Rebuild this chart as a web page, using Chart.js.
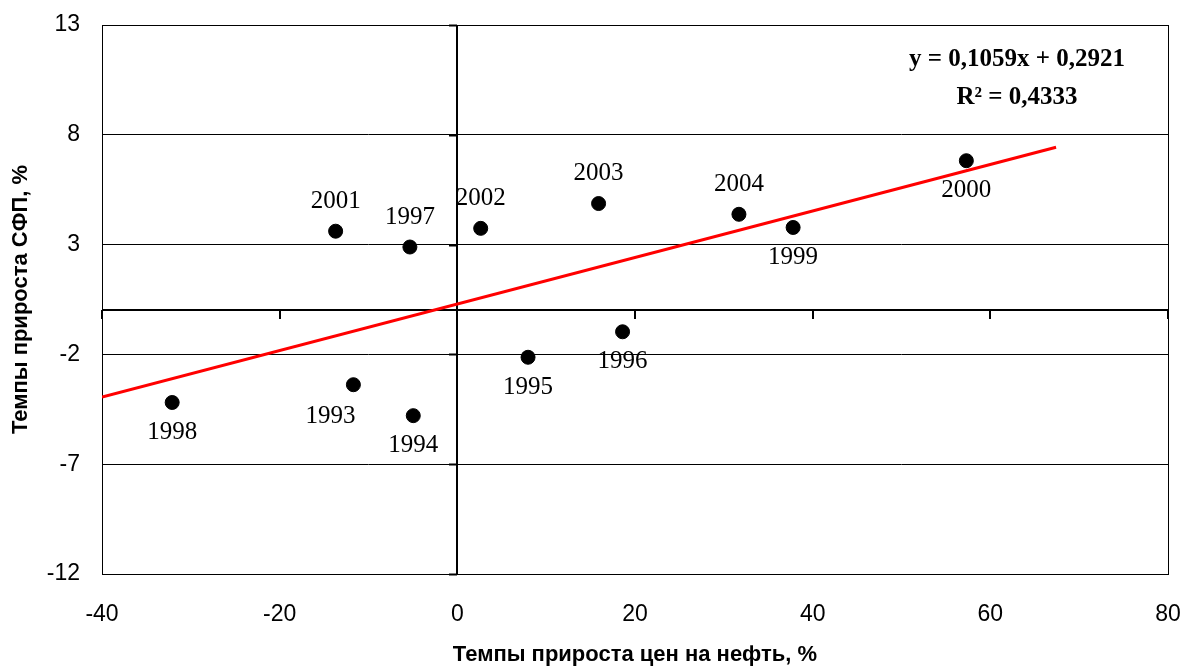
<!DOCTYPE html>
<html>
<head>
<meta charset="utf-8">
<script src="https://cdn.jsdelivr.net/npm/chart.js@4.4.1/dist/chart.umd.min.js"></script>
<style>
  body { margin: 0; background: #fff; }
  canvas { display: block; }
</style>
</head>
<body>
<canvas id="chart" width="1186" height="668"></canvas>
<script>
// Годы и значения точек (темпы прироста цен на нефть, темпы прироста СФП)
const years = ['1993', '1994', '1995', '1996', '1997', '1998', '1999', '2000', '2001', '2002', '2003', '2004'];
const oilGrowth = [-11.7, -4.96, 7.96, 18.6, -5.34, -32.1, 37.8, 57.3, -13.7, 2.63, 15.9, 31.7];
const tfpGrowth = [-3.38, -4.79, -2.13, -0.97, 2.89, -4.19, 3.78, 6.82, 3.61, 3.74, 4.87, 4.38];
// где подпись года относительно точки
const labelSide = ['below-left', 'below', 'below', 'below', 'above', 'below', 'below', 'below', 'above', 'above', 'above', 'above'];

// линия тренда из уравнения на графике
const trendSlope = 0.1059;
const trendIntercept = 0.2921;
const trendRange = [-40, 67.4];

const xTickValues = [-40, -20, 0, 20, 40, 60, 80];
const yTickValues = [-12, -7, -2, 3, 8, 13];

const points = oilGrowth.map((x, i) => ({ x: x, y: tfpGrowth[i] }));
const trend = trendRange.map(x => ({ x: x, y: trendSlope * x + trendIntercept }));

// рамка и оси, пересекающиеся в нуле
const axesPlugin = {
    id: 'crossAxes',
    beforeDatasetsDraw(chart) {
        const ctx = chart.ctx;
        const { left, right, top, bottom } = chart.chartArea;
        const sx = chart.scales.x, sy = chart.scales.y;
        const x0 = Math.round(sx.getPixelForValue(0));
        const y0 = Math.round(sy.getPixelForValue(0));
        ctx.save();
        ctx.strokeStyle = '#000';
        ctx.lineWidth = 1;
        ctx.strokeRect(Math.round(left) + 0.5, Math.round(top) + 0.5, Math.round(right - left), Math.round(bottom - top));

        ctx.lineWidth = 2;
        ctx.beginPath();
        ctx.moveTo(x0, top);
        ctx.lineTo(x0, bottom);
        ctx.moveTo(left, y0);
        ctx.lineTo(right, y0);
        yTickValues.forEach(v => {
            const py = Math.round(sy.getPixelForValue(v)) + 0.5;
            ctx.moveTo(x0 - 8, py);
            ctx.lineTo(x0, py);
        });
        xTickValues.forEach(v => {
            const px = Math.round(sx.getPixelForValue(v));
            ctx.moveTo(px, y0);
            ctx.lineTo(px, y0 + 9);
        });
        ctx.stroke();
        ctx.restore();
    },
    afterDatasetsDraw(chart) {
        const ctx = chart.ctx;
        const meta = chart.getDatasetMeta(1);
        ctx.save();
        ctx.fillStyle = '#000';
        ctx.font = '25px "Liberation Serif", "Times New Roman", serif';
        ctx.textAlign = 'center';
        ctx.textBaseline = 'middle';
        meta.data.forEach((el, i) => {
            let dx = 0, dy = 30;
            if (labelSide[i] === 'above') dy = -30;
            if (labelSide[i] === 'below-left') { dx = -23; dy = 32; }
            ctx.fillText(years[i], el.x + dx, el.y + dy);
        });

        // уравнение тренда
        const { right, top } = chart.chartArea;
        const cx = right - 151;
        ctx.font = 'bold 25px "Liberation Serif", "Times New Roman", serif';
        ctx.textBaseline = 'alphabetic';
        ctx.fillText('y = 0,1059x + 0,2921', cx, top + 41);
        ctx.fillText('R² = 0,4333', cx, top + 79);
        ctx.restore();
    }
};

const ctx = document.getElementById('chart').getContext('2d');
const myChart = new Chart(ctx, {
    type: 'scatter',
    data: {
        datasets: [
            {
                type: 'line',
                data: trend,
                borderColor: '#ff0000',
                borderWidth: 3,
                pointRadius: 0,
                fill: false
            },
            {
                data: points,
                backgroundColor: '#000',
                borderColor: '#000',
                pointRadius: 7,
                pointHoverRadius: 7
            }
        ]
    },
    options: {
        responsive: false,
        animation: false,
        devicePixelRatio: 1,
        layout: { padding: { left: 0, right: 18, top: 25, bottom: 0 } },
        plugins: {
            legend: { display: false },
            tooltip: { enabled: false }
        },
        scales: {
            x: {
                type: 'linear',
                min: -40,
                max: 80,
                afterBuildTicks: s => { s.ticks = xTickValues.map(v => ({ value: v })); },
                afterFit: s => { s.height = 94; s.paddingLeft = 0; s.paddingRight = 0; },
                grid: { display: false, drawTicks: false },
                border: { display: false },
                ticks: {
                    padding: 27,
                    color: '#000',
                    font: { family: '"Liberation Sans", Arial, sans-serif', size: 23 }
                },
                title: {
                    display: true,
                    text: 'Темпы прироста цен на нефть, %',
                    color: '#000',
                    padding: { top: 0, bottom: 0 },
                    font: { family: '"Liberation Sans", Arial, sans-serif', size: 22, weight: 'bold' }
                }
            },
            y: {
                type: 'linear',
                min: -12,
                max: 13,
                afterBuildTicks: s => { s.ticks = yTickValues.map(v => ({ value: v })); },
                afterFit: s => { s.width = 102; s.paddingTop = 0; s.paddingBottom = 0; },
                grid: { color: '#000', lineWidth: 1, drawTicks: false },
                border: { display: false },
                ticks: {
                    padding: 22,
                    color: '#000',
                    font: { family: '"Liberation Sans", Arial, sans-serif', size: 23 }
                },
                title: {
                    display: true,
                    text: 'Темпы прироста СФП, %',
                    color: '#000',
                    padding: { top: 8, bottom: 0 },
                    font: { family: '"Liberation Sans", Arial, sans-serif', size: 22, weight: 'bold' }
                }
            }
        }
    },
    plugins: [axesPlugin, {
        id: 'whiteBg',
        beforeDraw(chart) {
            const c = chart.ctx;
            c.save();
            c.fillStyle = '#fff';
            c.fillRect(0, 0, chart.width, chart.height);
            c.restore();
        }
    }]
});
</script>
</body>
</html>
